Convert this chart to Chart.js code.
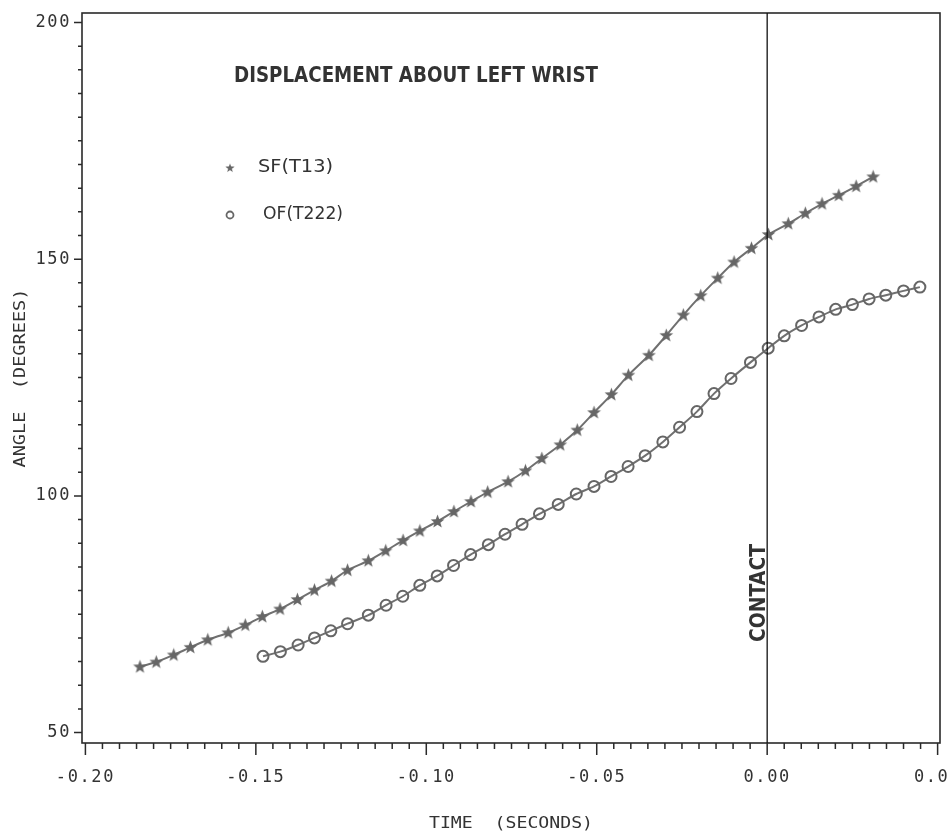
<!DOCTYPE html>
<html>
<head>
<meta charset="utf-8">
<script src="https://cdn.jsdelivr.net/npm/chart.js@4.4.1/dist/chart.umd.min.js"></script>
<style>
  html, body { margin: 0; padding: 0; background: #fff; }
  canvas { display: block; }
</style>
</head>
<body>
<canvas id="chart" width="949" height="834"></canvas>
<script>
"use strict";

// SF(T13) - stars
const sf_time = [-0.1840, -0.1792, -0.1741, -0.1692, -0.1641, -0.1581, -0.1531, -0.1481, -0.1429, -0.1378,
  -0.1328, -0.1278, -0.1231, -0.1170, -0.1119, -0.1068, -0.1019, -0.0967, -0.0919, -0.0869,
  -0.0820, -0.0760, -0.0709, -0.0661, -0.0607, -0.0557, -0.0508, -0.0457, -0.0407, -0.0347,
  -0.0296, -0.0246, -0.0195, -0.0145, -0.0097, -0.0046, 0.0004, 0.0062, 0.0112, 0.0161,
  0.0210, 0.0261, 0.0311];
const sf_angle = [63.9, 64.9, 66.4, 68.0, 69.6, 71.1, 72.7, 74.5, 76.1, 78.1,
  80.1, 82.0, 84.3, 86.3, 88.4, 90.6, 92.6, 94.6, 96.7, 98.8,
  100.8, 103.0, 105.3, 107.9, 110.8, 113.9, 117.6, 121.4, 125.5, 129.7,
  133.9, 138.2, 142.3, 146.0, 149.4, 152.3, 155.2, 157.5, 159.7, 161.7,
  163.5, 165.4, 167.4];

// OF(T222) - circles
const of_time = [-0.1479, -0.1428, -0.1376, -0.1328, -0.1280, -0.1231, -0.1170, -0.1118, -0.1069, -0.1019,
  -0.0968, -0.0920, -0.0870, -0.0818, -0.0769, -0.0719, -0.0668, -0.0613, -0.0560, -0.0508,
  -0.0458, -0.0408, -0.0358, -0.0306, -0.0257, -0.0206, -0.0156, -0.0106, -0.0049, 0.0003,
  0.0050, 0.0101, 0.0152, 0.0201, 0.0250, 0.0299, 0.0348, 0.0400, 0.0448];
const of_angle = [66.1, 67.1, 68.5, 70.0, 71.5, 73.0, 74.8, 76.9, 78.8, 81.1,
  83.1, 85.3, 87.6, 89.7, 91.9, 94.0, 96.2, 98.2, 100.4, 102.0,
  104.1, 106.2, 108.5, 111.4, 114.5, 117.8, 121.6, 124.8, 128.2, 131.2,
  133.8, 136.0, 137.8, 139.4, 140.4, 141.6, 142.4, 143.3, 144.1];

// axis ticks (labelled ones)
const x_major = [-0.20, -0.15, -0.10, -0.05, 0.00, 0.05];
const y_major = [50, 100, 150, 200];
const contact_time = 0.0;

const title_text = "DISPLACEMENT ABOUT LEFT WRIST";
const x_title = "TIME  (SECONDS)";
const y_title = "ANGLE  (DEGREES)";
const contact_text = "CONTACT";

const ink = "#333";
const mark = "#666";

// minor ticks every 0.005 s and every 5 degrees
const x_minor = [];
for (let i = -40; i <= 10; i++) x_minor.push(i / 200);
const y_minor = [];
for (let v = 50; v <= 200; v += 5) y_minor.push(v);

function is_x_major(v) {
  return x_major.some(m => Math.abs(m - v) < 1e-9);
}

const star_img = (function() {
  const c = document.createElement("canvas");
  c.width = 15; c.height = 15;
  const g = c.getContext("2d");
  g.fillStyle = mark;
  g.beginPath();
  for (let i = 0; i < 10; i++) {
    const r = i % 2 ? 3 : 7.2;
    const a = -Math.PI / 2 + i * Math.PI / 5;
    g.lineTo(7.5 + r * Math.cos(a), 7.8 + r * Math.sin(a));
  }
  g.closePath();
  g.fill();
  return c;
})();

function fit_text(c, text, x, y, width, font, rot, align) {
  c.save();
  c.font = font;
  c.textAlign = align || "left";
  const w = c.measureText(text).width;
  c.translate(x, y);
  if (rot) c.rotate(rot);
  c.scale(width / w, 1);
  c.fillText(text, 0, 0);
  c.restore();
}

const frame_plugin = {
  id: "frame",
  beforeDraw(chart) {
    chart.ctx.letterSpacing = "1.6px";
  },
  afterDraw(chart) {
    const c = chart.ctx, a = chart.chartArea;
    const xs = chart.scales.x, ys = chart.scales.y;
    c.save();
    c.letterSpacing = "0px";

    // box
    c.strokeStyle = "#2a2a2a";
    c.lineWidth = 1.6;
    c.strokeRect(a.left, a.top, a.right - a.left, a.bottom - a.top);

    // tick marks
    c.beginPath();
    ys.ticks.forEach(t => {
      const p = ys.getPixelForValue(t.value);
      const len = t.value % 50 === 0 ? 8 : 4;
      c.moveTo(a.left - len, p);
      c.lineTo(a.left, p);
    });
    xs.ticks.forEach(t => {
      const p = xs.getPixelForValue(t.value);
      const len = is_x_major(t.value) ? 12 : 6;
      c.moveTo(p, a.bottom);
      c.lineTo(p, a.bottom + len);
    });
    c.lineWidth = 1.5;
    c.stroke();

    // contact line
    const cx = xs.getPixelForValue(contact_time);
    c.beginPath();
    c.moveTo(cx, a.top);
    c.lineTo(cx, a.bottom);
    c.lineWidth = 1.3;
    c.strokeStyle = "#111";
    c.stroke();

    c.fillStyle = ink;
    c.textBaseline = "alphabetic";
    fit_text(c, contact_text, cx - 2, a.bottom - 101, 98, "bold 22px 'DejaVu Sans'", -Math.PI / 2);

    // title and legend
    c.textBaseline = "middle";
    fit_text(c, title_text, a.left + 152, a.top + 64, 364, "bold 21px 'DejaVu Sans'");

    c.drawImage(star_img, a.left + 143, a.top + 150, 10, 10);
    fit_text(c, chart.data.datasets[0].label, a.left + 176, a.top + 155, 75, "17px 'DejaVu Sans'");
    c.beginPath();
    c.arc(a.left + 148, a.top + 202, 3.5, 0, Math.PI * 2);
    c.lineWidth = 1.8;
    c.strokeStyle = mark;
    c.stroke();
    fit_text(c, chart.data.datasets[1].label, a.left + 181, a.top + 202, 80, "17px 'DejaVu Sans'");

    // axis titles
    fit_text(c, x_title, (a.left + a.right) / 2, 824, 164, "15px 'DejaVu Sans Mono'", 0, "center");
    fit_text(c, y_title, 21, (a.top + a.bottom) / 2, 179, "15px 'DejaVu Sans Mono'", -Math.PI / 2, "center");

    c.restore();
  }
};

const tick_font = { family: "'DejaVu Sans Mono'", size: 17 };

new Chart(document.getElementById("chart"), {
  type: "line",
  data: {
    datasets: [
      {
        label: "SF(T13)",
        data: sf_time.map((t, i) => ({ x: t, y: sf_angle[i] })),
        borderColor: "#707070",
        borderWidth: 2,
        pointStyle: star_img,
        pointRadius: 7,
        tension: 0.25,
        fill: false
      },
      {
        label: "OF(T222)",
        data: of_time.map((t, i) => ({ x: t, y: of_angle[i] })),
        borderColor: "#707070",
        borderWidth: 2,
        pointStyle: "circle",
        pointRadius: 5.5,
        pointBorderWidth: 2,
        pointBorderColor: mark,
        pointBackgroundColor: "rgba(0,0,0,0)",
        tension: 0.25,
        fill: false
      }
    ]
  },
  options: {
    responsive: false,
    animation: false,
    events: [],
    layout: { padding: { top: 13, right: 4, left: 0, bottom: 0 } },
    plugins: {
      legend: { display: false },
      title: { display: false },
      tooltip: { enabled: false }
    },
    scales: {
      x: {
        type: "linear",
        min: -0.201,
        max: 0.0507,
        grid: { display: false, drawTicks: false },
        border: { display: false },
        ticks: {
          autoSkip: false,
          maxRotation: 0,
          minRotation: 0,
          padding: 24,
          color: ink,
          font: tick_font,
          callback: v => is_x_major(v) ? v.toFixed(2) : ""
        },
        afterBuildTicks: s => { s.ticks = x_minor.map(v => ({ value: v })); },
        afterFit: s => { s.height = 91; s.paddingLeft = 0; s.paddingRight = 0; }
      },
      y: {
        type: "linear",
        min: 47.8,
        max: 202,
        grid: { display: false, drawTicks: false },
        border: { display: false },
        ticks: {
          autoSkip: false,
          padding: 11,
          color: ink,
          font: tick_font,
          callback: v => y_major.includes(v) ? String(v) : ""
        },
        afterBuildTicks: s => { s.ticks = y_minor.map(v => ({ value: v })); },
        afterFit: s => { s.width = 82; s.paddingTop = 0; s.paddingBottom = 0; }
      }
    }
  },
  plugins: [frame_plugin]
});
</script>
</body>
</html>
